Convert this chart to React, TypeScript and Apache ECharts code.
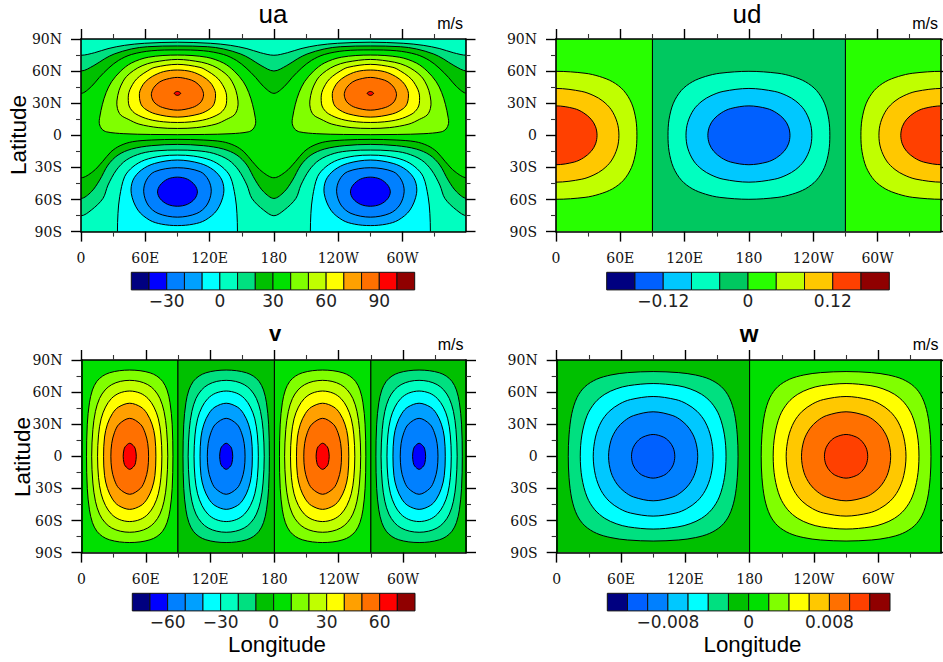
import React, { useEffect, useRef } from "react";
import * as echarts from "echarts";

type P = number[];

// ---- axis ticks -------------------------------------------------------
const lonTicks = [0, 60, 120, 180, 240, 300];
const lonLabels = ["0", "60E", "120E", "180", "120W", "60W"];
const latLabels: Record<string, string> = { "-90": "90S", "-60": "60S", "-30": "30S", "0": "0", "30": "30N", "60": "60N", "90": "90N" };
const LON_MAX = 358.75;

// ---- colour-bar levels ------------------------------------------------
const uaLevels = [-50, -40, -30, -20, -10, 0, 10, 20, 30, 40, 50, 60, 70, 80, 90, 100, 110];
const udLevels = [-0.2, -0.16, -0.12, -0.08, -0.04, 0, 0.04, 0.08, 0.12, 0.16, 0.2];
const vLevels = [-80, -70, -60, -50, -40, -30, -20, -10, 0, 10, 20, 30, 40, 50, 60, 70, 80];
const wLevels = [-0.014, -0.012, -0.01, -0.008, -0.006, -0.004, -0.002, 0, 0.002, 0.004, 0.006, 0.008, 0.01, 0.012, 0.014];
const uaBarTicks = [-30, 0, 30, 60, 90];
const uaBarLabels = ["\u221230", "0", "30", "60", "90"];
const udBarTicks = [-0.12, 0, 0.12];
const udBarLabels = ["\u22120.12", "0", "0.12"];
const vBarTicks = [-60, -30, 0, 30, 60];
const vBarLabels = ["\u221260", "\u221230", "0", "30", "60"];
const wBarTicks = [-0.008, 0, 0.008];
const wBarLabels = ["\u22120.008", "0", "0.008"];

// ---- palettes ---------------------------------------------------------
const uaColors = ["#000080", "#0000ff", "#0080ff", "#00a0ff", "#00ffff", "#00ffc0", "#00e080", "#00c000", "#00e000", "#80ff00", "#c0ff00", "#ffff00", "#ffa000", "#ff7000", "#ff0000", "#900000"];
const udColors = ["#000080", "#0060ff", "#00c8ff", "#00ffc0", "#00c860", "#28ff00", "#c0ff00", "#ffc800", "#ff4000", "#900000"];
const wColors = ["#000080", "#0060ff", "#0080ff", "#00c8ff", "#00ffff", "#00e080", "#00c000", "#00e000", "#80ff00", "#ffff00", "#ffc800", "#ff7000", "#ff4000", "#900000"];

// ---- ua contours: [lon, lat] half profiles ---------------------------
const uaTop30: P[] = [[0, 39.2], [9.6, 45.5], [17, 54], [26, 63], [35, 70], [47, 75.5], [65.6, 79], [90, 79.8]];
const uaTop20: P[] = [[0, 60.1], [12, 65.2], [22, 71.5], [31, 76], [47, 80.7], [62, 82.8], [90, 83.5]];
const uaTop10: P[] = [[0, 74.8], [12.7, 77.2], [25.2, 81], [40.7, 84.1], [59.4, 86], [90, 87]];
const uaLow30: P[] = [[0, -39.7], [11, -34], [20, -24.7], [28, -15.4], [36.5, -9.7], [48, -6], [66, -4.4], [90, -3.8]];
const uaLow20: P[] = [[0, -59], [9.6, -52.8], [17.4, -41.9], [25.2, -27.8], [34.5, -18.5], [47, -12.9], [65.6, -9.7], [90, -8.5]];
const uaLow10: P[] = [[0, -75.2], [9.6, -69.9], [20.5, -59], [25.2, -46.5], [33, -32.5], [42.3, -23.1], [56.3, -16.9], [71.8, -14.4], [90, -13.8]];
// lobes: [distance from the lobe's centre longitude, lat]
const ua40: P[] = [[0, 75], [27, 73], [43, 67.5], [53, 60], [61.5, 50], [66.5, 40], [70, 29], [72.5, 17], [72.9, 11], [70.5, 5.8], [66, 3.2], [50, 1.5], [25, 0.8], [0, 0.6]];
const ua50: P[] = [[0, 70.9], [22.5, 68.3], [33, 65], [41, 60.5], [47.5, 55], [51, 50], [54.5, 42], [56.5, 32], [56, 25], [53, 19], [46, 15], [36, 10.5], [18, 7.2], [0, 6.4]];
const ua60: P[] = [[0, 66.3], [21, 63.5], [28.2, 60], [35.5, 55], [40.3, 50], [45.3, 40], [45.7, 30], [43.9, 25], [38.9, 20], [27, 15], [13, 12.6], [0, 12]];
const ua70: P[] = [[0, 61], [13, 59.5], [23.5, 55], [30, 50], [33.5, 45], [35.5, 39], [34.4, 30], [30.7, 25], [20.6, 20], [0, 17]];
const ua80: P[] = [[0, 54.1], [10, 52.5], [16.4, 50], [21.8, 45], [24.3, 39], [23.5, 34], [20.9, 30], [14, 26], [0, 23.5]];
const ua90: P[] = [[0, 41], [2, 40.3], [3, 39.2], [2, 38], [0, 37.3]];
const ua0: P[] = [[0, -18.5], [15, -19.4], [30.6, -23.1], [41.5, -29.4], [49.3, -38.7], [53.9, -57.4], [55.5, -73], [56, -90], [56, -130], [0, -130]];
const uaN10: P[] = [[0, -23.1], [21.3, -26.3], [33.7, -32.5], [41.5, -41.9], [43.1, -54.3], [36.9, -69.9], [26, -79.3], [15, -83], [0, -84.4]];
const uaN20: P[] = [[0, -30.3], [21.3, -34], [29, -41.9], [31.5, -52.8], [27.4, -65.2], [18.1, -73], [0, -76.5]];
const uaN30: P[] = [[0, -39.1], [9.3, -41], [16.2, -46.6], [18.6, -52.9], [16.2, -59.2], [9.3, -64.5], [0, -66.3]];

// ---- ud contours: quarter profiles [distance from centre lon, lat] ---
const ud1: P[] = [[75.5, 0], [74.5, 15], [70.5, 30], [63, 42], [52.8, 50], [40.5, 55], [27.1, 58], [0, 59.8]];
const ud2: P[] = [[58.7, 0], [57.1, 12], [51.5, 24], [43.7, 32], [35.4, 37], [24.1, 41], [0, 43.8]];
const ud3: P[] = [[38.3, 0], [36.9, 8], [32.8, 15], [25.7, 21], [17, 25], [0, 27.5]];

// ---- v contours -------------------------------------------------------
const v10: P[] = [[40.3, 0], [39.6, 30], [37.6, 50], [34.8, 62], [30.7, 70], [25.3, 75], [19, 78], [9.6, 80], [0, 80.6]];
const v20: P[] = [[35.5, 0], [34.4, 25], [32, 42], [28.2, 54], [23, 62], [16.8, 67], [8.8, 70], [0, 71]];
const v30: P[] = [[30, 0], [29.1, 20], [26.7, 35], [22.6, 46], [17.1, 54], [9.8, 59], [0, 61]];
const v40: P[] = [[24.4, 0], [23.5, 18], [20.8, 30], [16.1, 40], [10.5, 46], [0, 49.6]];
const v50: P[] = [[17.6, 0], [16.8, 12], [14.3, 22], [10, 30], [0, 35.5]];
const v60: P[] = [[6.1, 0], [5.4, 6], [4.2, 9], [0, 12.2]];

// ---- w contours -------------------------------------------------------
const w1: P[] = [[79.2, 0], [78.5, 20], [75.9, 40], [71, 55], [63.7, 65], [52.8, 72], [39.4, 76], [23.9, 78.2], [0, 79.2]];
const w2: P[] = [[68, 0], [66.5, 20], [61.7, 38], [54.4, 50], [45.1, 58], [34.5, 63], [23.1, 66], [0, 68]];
const w3: P[] = [[55.9, 0], [53.8, 18], [48.6, 32], [41, 42], [31.2, 49], [21.2, 53], [0, 55.9]];
const w4: P[] = [[41.6, 0], [39.3, 15], [33.7, 26], [26.9, 33], [18.4, 38], [0, 41.6]];
const w5: P[] = [[20.2, 0], [18.7, 8], [14.8, 14], [9.5, 18], [0, 20.4]];

// ---- contour geometry helpers -----------------------------------------
const SMOOTH = 0.33;
type Region = { pts: P[]; color: string; smooth: number };

const lobe = (cx: number, half: P[]): P[] => [
  ...half.map(([d, y]) => [cx + d, y]),
  ...half.slice().reverse().filter(([d]) => d > 0).map(([d, y]) => [cx - d, y]),
];
const loop = (cx: number, q: P[]): P[] => {
  const rev = q.slice().reverse();
  return [
    ...q.map(([d, y]) => [cx + d, y]),
    ...rev.filter(([d]) => d > 0).map(([d, y]) => [cx - d, y]),
    ...q.filter(([, y]) => y > 0).map(([d, y]) => [cx - d, -y]),
    ...rev.filter(([d, y]) => d > 0 && y > 0).map(([d, y]) => [cx + d, -y]),
  ];
};
const band = (half: P[], toLat: number): P[] => {
  const pts: P[] = [];
  for (let k = -1; k <= 2; k++) {
    half.forEach(([x, y]) => pts.push([x + 180 * k, y]));
    half.slice(0, -1).reverse().slice(0, -1).forEach(([x, y]) => pts.push([180 - x + 180 * k, y]));
  }
  pts.push([540, half[0][1]], [620, toLat], [-260, toLat]);
  return pts;
};
const block = (a: number, b: number): P[] => [[a, -140], [b, -140], [b, 140], [a, 140]];
const R = (pts: P[], color: string, smooth = SMOOTH): Region => ({ pts, color, smooth });

const c = uaColors;
const uaRegions: Region[] = [
  R(block(-40, 400), c[8], 0),
  R(band(uaTop30, 170), c[7]),
  R(band(uaTop20, 170), c[6]),
  R(band(uaTop10, 170), c[5]),
  R(band(uaLow30, -170), c[7]),
  R(band(uaLow20, -170), c[6]),
  R(band(uaLow10, -170), c[5]),
  ...[90, 270].flatMap((x) => [
    R(lobe(x, ua40), c[9]),
    R(lobe(x, ua50), c[10]),
    R(lobe(x, ua60), c[11]),
    R(lobe(x, ua70), c[12]),
    R(lobe(x, ua80), c[13]),
    R(lobe(x, ua90), c[14]),
    R(lobe(x, ua0), c[4]),
    R(lobe(x, uaN10), c[3]),
    R(lobe(x, uaN20), c[2]),
    R(lobe(x, uaN30), c[1]),
  ]),
];
const d = udColors;
const udRegions: Region[] = [
  R(block(-40, 90), d[5], 0),
  R(block(270, 400), d[5], 0),
  R(block(90, 270), d[4], 0),
  R(loop(180, ud1), d[3]),
  R(loop(180, ud2), d[2]),
  R(loop(180, ud3), d[1]),
  ...[0, 360].flatMap((x) => [R(loop(x, ud1), d[6]), R(loop(x, ud2), d[7]), R(loop(x, ud3), d[8])]),
];
const vProfiles = [v10, v20, v30, v40, v50, v60];
const vRegions: Region[] = [
  R(block(-40, 90), c[8], 0),
  R(block(90, 180), c[7], 0),
  R(block(180, 270), c[8], 0),
  R(block(270, 400), c[7], 0),
  ...[45, 225].flatMap((x) => vProfiles.map((q, i) => R(loop(x, q), c[9 + i]))),
  ...[135, 315].flatMap((x) => vProfiles.map((q, i) => R(loop(x, q), c[6 - i]))),
];
const wProfiles = [w1, w2, w3, w4, w5];
const wRegions: Region[] = [
  R(block(-40, 180), wColors[6], 0),
  R(block(180, 400), wColors[7], 0),
  ...wProfiles.map((q, i) => R(loop(90, q), wColors[5 - i])),
  ...wProfiles.map((q, i) => R(loop(270, q), wColors[8 + i])),
];

// ---- layout -----------------------------------------------------------
const panels = [
  { x: 81, y: 39, regions: uaRegions, bx: 131.3, by: 272.3, bw: 283.4, levels: uaLevels, colors: uaColors, ticks: uaBarTicks, labels: uaBarLabels },
  { x: 556, y: 39, regions: udRegions, bx: 606.7, by: 272.3, bw: 282.6, levels: udLevels, colors: udColors, ticks: udBarTicks, labels: udBarLabels },
  { x: 81.5, y: 360, regions: vRegions, bx: 132.3, by: 593.3, bw: 282.7, levels: vLevels, colors: uaColors, ticks: vBarTicks, labels: vBarLabels },
  { x: 556.7, y: 360, regions: wRegions, bx: 607.3, by: 593.3, bw: 282.7, levels: wLevels, colors: wColors, ticks: wBarTicks, labels: wBarLabels },
];
const PW = 384.5;
const PH = 192.6;
const BH = 17.6;
const TICK_FONT = "DejaVu Serif";
const SANS = "Liberation Sans";

const texts = [
  { t: "ua", x: 273, y: 14, size: 26, w: "normal" },
  { t: "ud", x: 747, y: 14, size: 26, w: "normal" },
  { t: "v", x: 275, y: 333, size: 22, w: "bold" },
  { t: "w", x: 749, y: 333, size: 24, w: "bold" },
  { t: "Longitude", x: 277, y: 644, size: 22.3, w: "normal" },
  { t: "Longitude", x: 752.5, y: 644, size: 22.3, w: "normal" },
];
const unitLabels = [
  { x: 463, y: 23 },
  { x: 938, y: 23 },
  { x: 463.5, y: 344 },
  { x: 938.5, y: 344 },
];
const latTitles = [
  { x: 18, y: 135 },
  { x: 22, y: 457 },
];

function buildOption() {
  const grid: any[] = [];
  const xAxis: any[] = [];
  const yAxis: any[] = [];
  const series: any[] = [];
  const line = { onZero: false, lineStyle: { color: "#000", width: 1.6 } };
  const major = { length: 10, lineStyle: { color: "#000", width: 1.4 } };
  const minor = { show: true, splitNumber: 2, length: 5, lineStyle: { color: "#333", width: 1.1 } };

  panels.forEach((p) => {
    const g = grid.length;
    grid.push({ left: p.x, top: p.y, width: PW, height: PH });
    const xi = xAxis.length;
    const yi = yAxis.length;
    ["bottom", "top"].forEach((position, j) => {
      xAxis.push({
        type: "value", gridIndex: g, position, min: 0, max: LON_MAX, interval: 60, z: 10,
        axisLine: line, splitLine: { show: false },
        axisTick: { ...major, customValues: lonTicks },
        minorTick: minor,
        axisLabel: j === 0
          ? { customValues: lonTicks, margin: 19, fontFamily: TICK_FONT, fontSize: 14, color: "#111", hideOverlap: false,
              formatter: (v: number) => lonLabels[lonTicks.indexOf(v)] }
          : { show: false },
      });
    });
    ["left", "right"].forEach((position, j) => {
      yAxis.push({
        type: "value", gridIndex: g, position, min: -90, max: 90, interval: 30, z: 10,
        axisLine: line, splitLine: { show: false },
        axisTick: major, minorTick: minor,
        axisLabel: j === 0
          ? { margin: 19, fontFamily: TICK_FONT, fontSize: 14, color: "#111", hideOverlap: false,
              formatter: (v: number) => latLabels[String(v)] }
          : { show: false },
      });
    });
    const regions = p.regions;
    series.push({
      type: "custom", xAxisIndex: xi, yAxisIndex: yi, clip: true, silent: true,
      data: regions.map((_, i) => [i, 0]),
      renderItem: (params: any, api: any) => {
        const r = regions[params.dataIndex];
        return {
          type: "polygon",
          shape: { points: r.pts.map((q) => api.coord(q)), smooth: r.smooth },
          style: { fill: r.color, stroke: "#000", lineWidth: 1 },
        };
      },
    });

    // colour bar
    const bg = grid.length;
    grid.push({ left: p.bx, top: p.by, width: p.bw, height: BH });
    const bxi = xAxis.length;
    const byi = yAxis.length;
    const step = p.levels[1] - p.levels[0];
    const first = p.levels[0];
    const lastLevel = p.levels[p.levels.length - 1];
    xAxis.push({
      type: "value", gridIndex: bg, position: "bottom", min: first, max: lastLevel, interval: step,
      axisLine: { show: false }, axisTick: { show: false }, splitLine: { show: false },
      axisLabel: {
        customValues: p.ticks, margin: 4, fontFamily: "DejaVu Sans", fontSize: 17, lineHeight: 15, color: "#222", hideOverlap: false,
        formatter: (v: number) => p.labels[p.ticks.findIndex((t) => Math.abs(t - v) < 1e-9)],
      },
    });
    yAxis.push({ type: "value", gridIndex: bg, min: 0, max: 1, show: false });
    series.push({
      type: "custom", xAxisIndex: bxi, yAxisIndex: byi, silent: true,
      encode: { x: [0, 1], y: 2 },
      data: p.colors.map((_, i) => [p.levels[i], p.levels[i + 1], 0]),
      renderItem: (params: any, api: any) => {
        const a = api.coord([api.value(0), 0]);
        const b = api.coord([api.value(1), 1]);
        return {
          type: "rect",
          shape: { x: a[0], y: b[1], width: b[0] - a[0], height: a[1] - b[1] },
          style: { fill: p.colors[params.dataIndex], stroke: "#111", lineWidth: 1 },
        };
      },
    });
  });

  const graphic: any[] = [
    ...texts.map((t) => ({
      type: "text", x: t.x, y: t.y, silent: true,
      style: { text: t.t, fill: "#000", font: `${t.w} ${t.size}px "${SANS}"`, lineHeight: Math.min(t.size, 20), textAlign: "center", textVerticalAlign: "middle" },
    })),
    ...unitLabels.map((u) => ({
      type: "text", x: u.x, y: u.y, silent: true,
      style: { text: "m/s", fill: "#000", font: `16px "${SANS}"`, textAlign: "right", textVerticalAlign: "middle" },
    })),
    ...latTitles.map((u) => ({
      type: "text", x: u.x, y: u.y, rotation: Math.PI / 2, silent: true,
      style: { text: "Latitude", fill: "#000", font: `22.5px "${SANS}"`, textAlign: "center", textVerticalAlign: "middle" },
    })),
  ];

  return { animation: false, backgroundColor: "#fff", grid, xAxis, yAxis, series, graphic };
}

export default function App() {
  const ref = useRef<HTMLDivElement>(null);
  useEffect(() => {
    const chart = echarts.init(ref.current!, undefined, { renderer: "svg" });
    chart.setOption(buildOption() as any);
    return () => chart.dispose();
  }, []);
  return <div ref={ref} style={{ position: "fixed", left: 0, top: 0, width: 943, height: 662 }} />;
}
